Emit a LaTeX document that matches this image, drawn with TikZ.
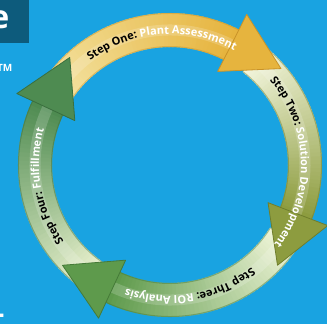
\documentclass[tikz,border=0pt]{standalone}
\usepackage{fontspec}
\setmainfont{Open Sans}
\usetikzlibrary{decorations.text}
\definecolor{bgblue}{HTML}{19A3E1}
\definecolor{boxteal}{HTML}{0D5B7C}
\definecolor{oneA}{HTML}{F4E4A4}
\definecolor{oneB}{HTML}{E6B43E}
\definecolor{oneE}{HTML}{C99328}
\definecolor{twoA}{HTML}{F2F5DC}
\definecolor{twoB}{HTML}{8D9C3F}
\definecolor{twoE}{HTML}{6F7E2C}
\definecolor{threeA}{HTML}{EEF4D6}
\definecolor{threeB}{HTML}{5E9A4C}
\definecolor{threeE}{HTML}{457A38}
\definecolor{fourA}{HTML}{E6EFCB}
\definecolor{fourB}{HTML}{4E8B51}
\definecolor{fourE}{HTML}{3A6F3E}
\newcommand\ringband[5]{%
  \foreach \i in {0,...,47}{%
    \pgfmathsetmacro\aa{#1+(#2-#1)*\i/48}%
    \pgfmathsetmacro\bb{#1+(#2-#1)*(\i+1.4)/48}%
    \pgfmathtruncatemacro\pp{100*\i/47}%
    \fill[#4!\pp!#3] (\aa:118pt) arc[start angle=\aa,end angle=\bb,radius=118pt]
      -- (\bb:152pt) arc[start angle=\bb,end angle=\aa,radius=152pt] -- cycle;
  }%
  \draw[white,opacity=0.18,line width=11pt] (#1:135pt) arc[start angle=#1,end angle=#2,radius=135pt];
  \draw[#5,opacity=0.45,line width=1pt] (#1:118.5pt) arc[start angle=#1,end angle=#2,radius=118.5pt];
  \draw[#5,opacity=0.45,line width=1pt] (#1:151.5pt) arc[start angle=#1,end angle=#2,radius=151.5pt];
}
\newcommand\ringhead[3]{%
  \pgfmathsetmacro\tp{#1-22}%
  \filldraw[fill=#2,draw=#3,line width=0.8pt,line join=round]
    (#1:105pt) -- (#1:169pt) -- (\tp:147pt) -- cycle;
}
\newcommand\blk{\fontsize{11}{13}\selectfont\bfseries\color{black}}
\newcommand\wht{\fontsize{11}{13}\selectfont\bfseries\color{white}}
\begin{document}
\begin{tikzpicture}[x=1pt,y=-1pt]
\useasboundingbox (0,0) rectangle (327,324);
\fill[bgblue] (0,0) rectangle (327,324);
% top-left dark box and partial title letter
\fill[boxteal] (0,0) rectangle (29,43);
\node[anchor=base east,text=white,font=\fontsize{32}{34}\selectfont\bfseries,inner sep=0pt] (title) at (9.5,28.5) {e};
\node[anchor=base east,text=white,font=\fontsize{10}{12}\selectfont\bfseries,inner sep=0pt] (tm) at (12.5,71) {TM};
\node[anchor=base east,text=white,font=\fontsize{30}{32}\selectfont\bfseries,inner sep=0pt] (tail) at (13.5,330) {t.};
\coordinate (c) at (170,165);
\begin{scope}[shift={(c)}]
  % bands
  \ringband{152}{63}{oneA}{oneB}{oneE}
  \ringband{52}{-21}{twoA}{twoB}{twoE}
  \ringband{-32}{-115}{threeA}{threeB}{threeE}
  \ringband{235}{155}{fourA}{fourB}{fourE}
  % arrowheads
  \ringhead{63}{oneB}{oneE}
  \ringhead{-21}{twoB}{twoE}
  \ringhead{-115}{threeB}{threeE}
  \ringhead{155}{fourB}{fourE}
  % labels along the ring
  \path[decorate,decoration={text along path,text align=center,
    text={|\blk|Step One: |\wht|Plant Assessment}}]
    (140:131pt) arc[start angle=140,end angle=48,radius=131pt];
  \path[decorate,decoration={text along path,text align=center,
    text={|\blk|Step Two: |\wht|Solution Development}}]
    (48:131pt) arc[start angle=48,end angle=-45,radius=131pt];
  \path[decorate,decoration={text along path,text align=center,
    text={|\blk|Step Three: |\wht|ROI Analysis}}]
    (-38:131pt) arc[start angle=-38,end angle=-123,radius=131pt];
  \path[decorate,decoration={text along path,text align=center,
    text={|\blk|Step Four: |\wht|Fulfillment}}]
    (230:131pt) arc[start angle=230,end angle=150,radius=131pt];
\end{scope}
\end{tikzpicture}
\end{document}
